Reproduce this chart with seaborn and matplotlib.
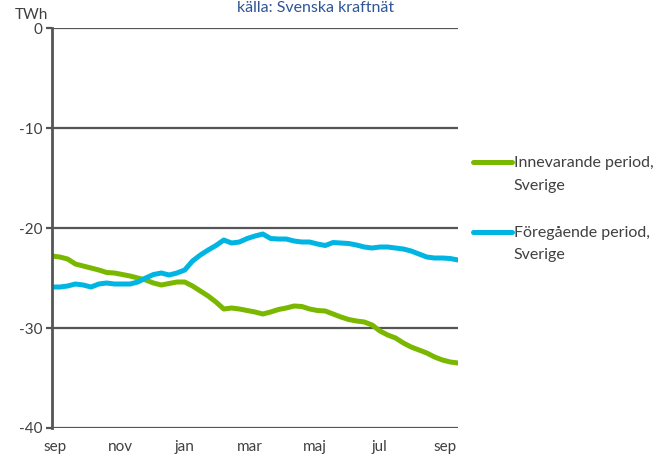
import numpy as np
import pandas as pd
import matplotlib
matplotlib.use('Agg')
import matplotlib.pyplot as plt
import seaborn as sns

sns.set_style('white')
plt.rcParams['font.family'] = ['Lato', 'DejaVu Sans']

# veckovärden, TWh (sep -> sep)
innevarande = [-22.8, -22.9, -23.1, -23.6, -23.8, -24.0, -24.2, -24.45, -24.5, -24.65,
               -24.8, -25.0, -25.2, -25.5, -25.7, -25.55, -25.4, -25.4, -25.8, -26.3,
               -26.8, -27.4, -28.1, -28.0, -28.1, -28.25, -28.4, -28.6, -28.4, -28.15,
               -28.0, -27.8, -27.85, -28.1, -28.25, -28.3, -28.6, -28.9, -29.15, -29.3,
               -29.4, -29.7, -30.3, -30.7, -31.0, -31.5, -31.9, -32.2, -32.5, -32.9,
               -33.2, -33.4, -33.5]
foregaende = [-25.9, -25.9, -25.8, -25.6, -25.7, -25.9, -25.6, -25.5, -25.6, -25.6,
              -25.6, -25.4, -25.0, -24.65, -24.5, -24.7, -24.5, -24.2, -23.3, -22.7,
              -22.2, -21.75, -21.2, -21.5, -21.4, -21.05, -20.8, -20.6, -21.05, -21.1,
              -21.1, -21.3, -21.4, -21.4, -21.6, -21.75, -21.45, -21.5, -21.55, -21.7,
              -21.9, -22.0, -21.9, -21.9, -22.0, -22.1, -22.3, -22.6, -22.9, -23.0,
              -23.0, -23.05, -23.2]
manader = ['sep', 'nov', 'jan', 'mar', 'maj', 'jul', 'sep']
serier = ['Innevarande period,\nSverige', 'Föregående period,\nSverige']

vecka = np.arange(len(innevarande))
df = pd.DataFrame({
    'vecka': np.concatenate([vecka, vecka]),
    'TWh': innevarande + foregaende,
    'serie': [serier[0]] * len(vecka) + [serier[1]] * len(vecka),
})

fig = plt.figure(figsize=(6.7, 4.61), dpi=100)
ax = fig.add_axes([0.0776, 0.0716, 0.6060, 0.8676])

sns.lineplot(data=df, x='vecka', y='TWh', hue='serie', palette=['#7ab800', '#00b5e2'],
             linewidth=3.6, ax=ax, legend=True)

ax.set_xlim(0, len(vecka) - 1)
ax.set_ylim(-40, 0)
ax.set_yticks([0, -10, -20, -30, -40])
ax.set_yticklabels(['0', '-10', '-20', '-30', '-40'])
ax.set_xticks(np.linspace(0.4, 50.3, len(manader)))
ax.set_xticklabels(manader)
ax.set_xlabel('')
ax.set_ylabel('')

for v in [0, -10, -20, -30, -40]:
    ax.axhline(v, color='#555555', lw=1.6, zorder=1)
for s in ['top', 'right', 'bottom']:
    ax.spines[s].set_visible(False)
ax.spines['left'].set_color('#555555')
ax.spines['left'].set_linewidth(2)

ax.tick_params(axis='y', length=4, width=1.6, color='#555555', labelsize=11,
               labelcolor='#404040', pad=3, left=True)
ax.tick_params(axis='x', length=0, labelsize=11, labelcolor='#404040', pad=9)

fig.text(0.022, 0.967, 'TWh', fontsize=11, color='#404040', ha='left', va='center')
fig.text(0.471, 0.982, 'källa: Svenska kraftnät', fontsize=11.5, color='#2f5597',
         ha='center', va='center')

leg = ax.legend(loc='upper left', bbox_to_anchor=(1.001, 0.715), frameon=False,
                fontsize=11.5, handlelength=2.45, handletextpad=0.1, labelspacing=2.1,
                labelcolor='#404040')
for line in leg.get_lines():
    line.set_linewidth(3.6)
for t in leg.get_texts():
    t.set_linespacing(1.75)
for hp in leg._legend_handle_box.get_children():
    for row in hp.get_children():
        row.align = 'top'

fig.savefig('out.png', dpi=100)
